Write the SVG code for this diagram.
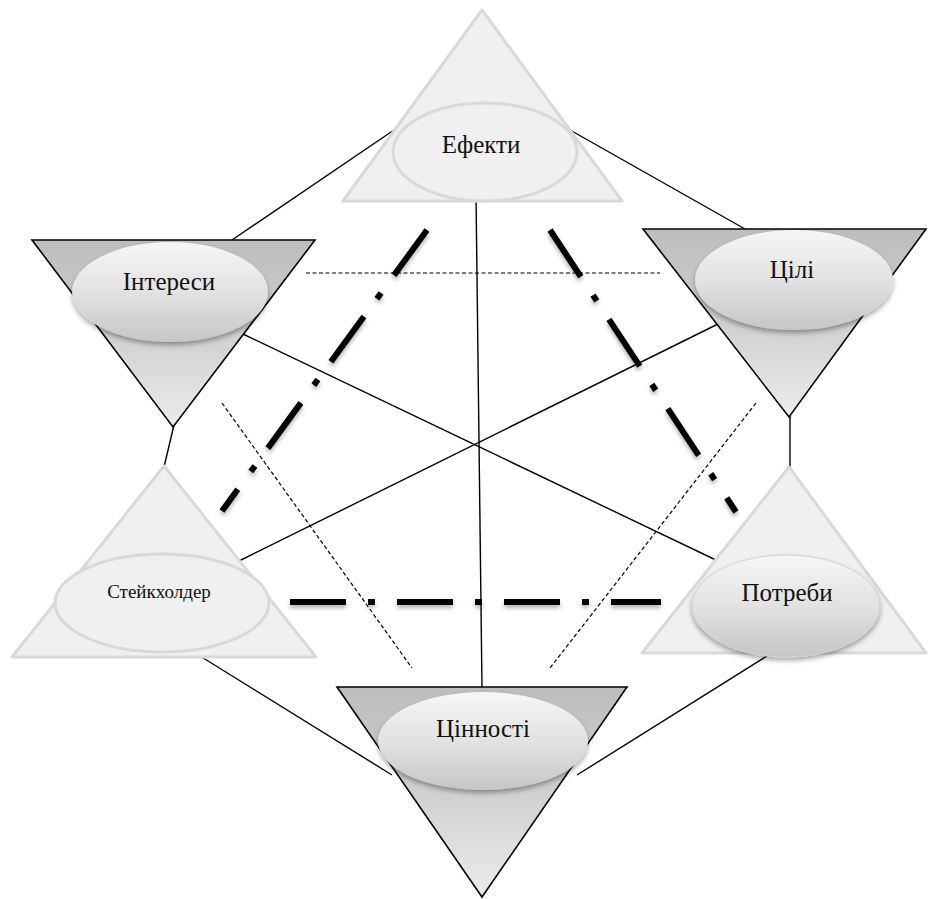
<svg xmlns="http://www.w3.org/2000/svg" width="928" height="899" viewBox="0 0 928 899">
<defs>
  <linearGradient id="invTri" x1="0" y1="0" x2="0" y2="1">
    <stop offset="0" stop-color="#bdbdbd"/>
    <stop offset="0.45" stop-color="#cdcdcd"/>
    <stop offset="1" stop-color="#ececec"/>
  </linearGradient>
  <linearGradient id="ellG" x1="0" y1="0" x2="0" y2="1">
    <stop offset="0" stop-color="#f6f6f6"/>
    <stop offset="0.5" stop-color="#e2e2e2"/>
    <stop offset="1" stop-color="#c6c6c6"/>
  </linearGradient>
  <filter id="shadow" x="-20%" y="-20%" width="140%" height="160%">
    <feDropShadow dx="0" dy="3" stdDeviation="2.5" flood-color="#000" flood-opacity="0.35"/>
  </filter>
  <filter id="lineShadow" x="-10%" y="-10%" width="120%" height="120%" filterUnits="userSpaceOnUse">
    <feDropShadow dx="0" dy="3" stdDeviation="2" flood-color="#000" flood-opacity="0.3"/>
  </filter>
</defs>
<style>
  .light { fill: #f0f0f0; stroke: #d9d9d9; stroke-width: 3; stroke-linejoin: round; }
  .dark { fill: url(#invTri); stroke: #000; stroke-width: 1.6; stroke-linejoin: miter; }
  .ellG { fill: url(#ellG); stroke: none; filter: url(#shadow); }
  .ellP { fill: url(#ellG); stroke: #d0d0d0; stroke-width: 1; filter: url(#shadow); }
  .lbl { font-family: "Liberation Serif", "Times New Roman", serif; font-size: 25px; fill: #111; text-anchor: middle; }
  .small { font-size: 19px; }
  .solid { stroke: #000; stroke-width: 1.4; fill: none; }
  .thin { stroke: #000; stroke-width: 1.2; stroke-dasharray: 4 2.5; fill: none; }
  .thick { stroke: #000; stroke-width: 6; stroke-dasharray: 56 22 7 22; fill: none; filter: url(#lineShadow); }
</style>
<rect width="928" height="899" fill="#fff"/>
<g id="connectors">
  <line class="solid" x1="394" y1="130" x2="232" y2="240"/>
  <line class="solid" x1="570" y1="130" x2="745" y2="229"/>
  <line class="solid" x1="476" y1="195" x2="482" y2="688"/>
  <line class="solid" x1="243" y1="334" x2="718" y2="561"/>
  <line class="solid" x1="718" y1="324" x2="239" y2="561"/>
  <line class="solid" x1="174" y1="425" x2="164" y2="467"/>
  <line class="solid" x1="790" y1="415" x2="790" y2="468"/>
  <line class="solid" x1="200" y1="656" x2="392" y2="775"/>
  <line class="solid" x1="767" y1="656" x2="577" y2="775"/>
  <line class="thin" x1="306" y1="273" x2="660" y2="273"/>
  <line class="thin" x1="222" y1="403" x2="412" y2="668"/>
  <line class="thin" x1="756" y1="403" x2="550" y2="668"/>
  <line class="thick" x1="427" y1="230" x2="222" y2="511"/>
  <line class="thick" x1="550" y1="230" x2="736" y2="512"/>
  <line class="thick" x1="290" y1="602" x2="661" y2="602"/>
</g>
<g id="node-efekty">
  <polygon class="light" points="482,10 343,201 622,201"/>
  <ellipse class="light" cx="485" cy="152" rx="92" ry="49"/>
  <text class="lbl" x="481" y="153">Ефекти</text>
</g>
<g id="node-interesy">
  <polygon class="dark" points="32,240 315,240 173,427"/>
  <ellipse class="ellG" cx="170" cy="292" rx="98" ry="50"/>
  <text class="lbl" x="169" y="290">Інтереси</text>
</g>
<g id="node-tsili">
  <polygon class="dark" points="643,229 926,229 789,417"/>
  <ellipse class="ellG" cx="794" cy="280" rx="99" ry="50"/>
  <text class="lbl" x="792" y="278">Цілі</text>
</g>
<g id="node-steikholder">
  <polygon class="light" points="164,466 12,657 316,657"/>
  <ellipse class="light" cx="162" cy="603" rx="107" ry="49"/>
  <text class="lbl small" x="159" y="598">Стейкхолдер</text>
</g>
<g id="node-potreby">
  <polygon class="light" points="789,467 642,653 926,653"/>
  <ellipse class="ellP" cx="786" cy="606" rx="94" ry="51"/>
  <text class="lbl" x="787" y="601">Потреби</text>
</g>
<g id="node-tsinnosti">
  <polygon class="dark" points="337,687 627,687 482,897"/>
  <ellipse class="ellG" cx="483" cy="741" rx="105" ry="49"/>
  <text class="lbl" x="483" y="737">Цінності</text>
</g>
</svg>
